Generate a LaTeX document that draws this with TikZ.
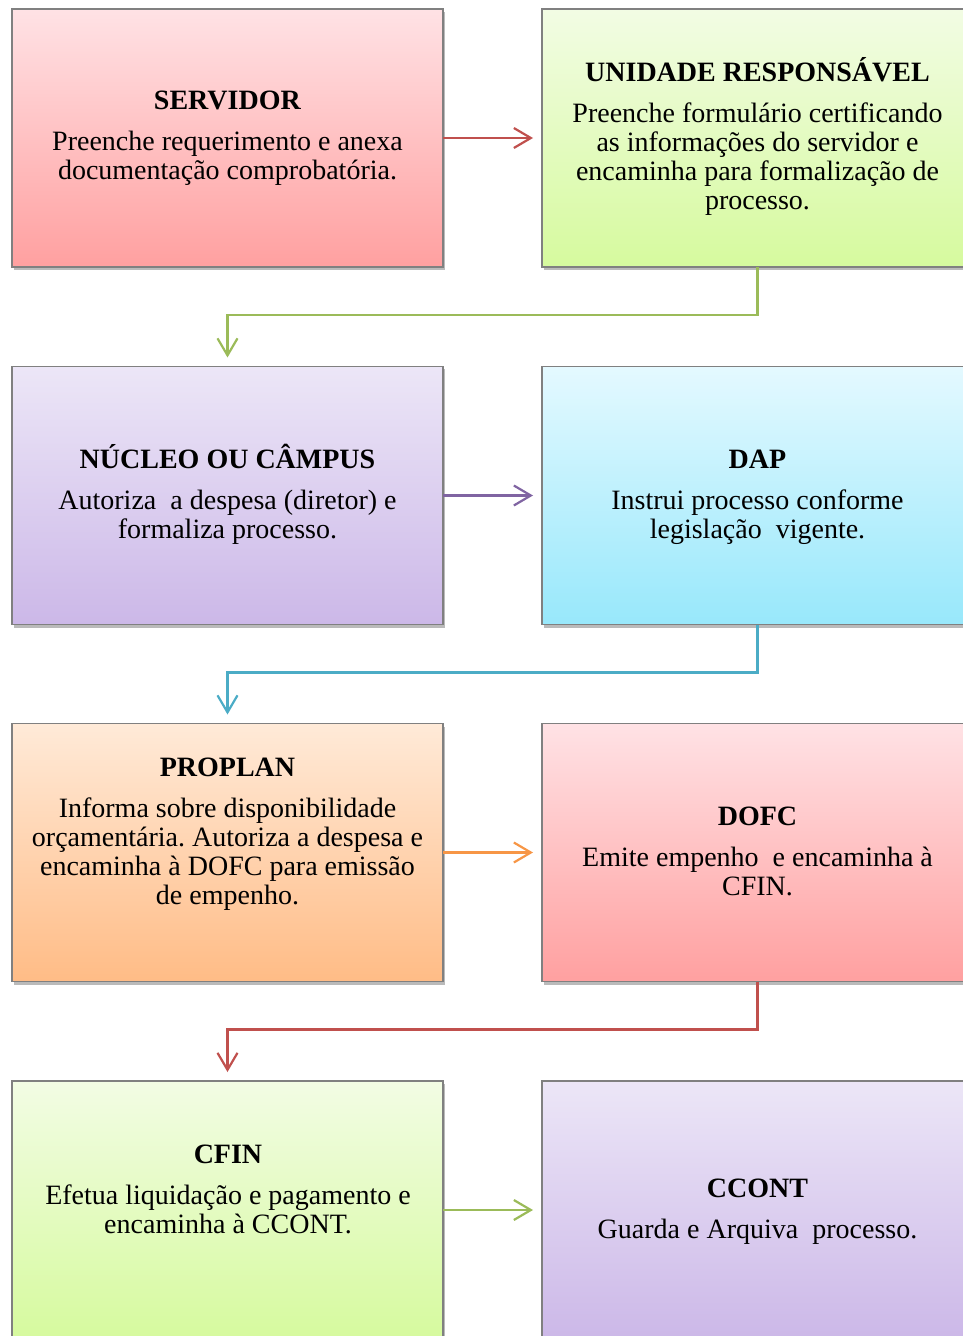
\documentclass[tikz,border=0pt]{standalone}
\usepackage{fontspec}
\setmainfont{Liberation Serif}
\frenchspacing
\usetikzlibrary{arrows.meta,shadows}
\definecolor{redT}{RGB}{255,226,229}
\definecolor{redB}{RGB}{255,160,160}
\definecolor{grnT}{RGB}{242,252,228}
\definecolor{grnB}{RGB}{214,250,158}
\definecolor{purT}{RGB}{236,230,247}
\definecolor{purB}{RGB}{204,184,232}
\definecolor{bluT}{RGB}{228,249,255}
\definecolor{bluB}{RGB}{152,232,251}
\definecolor{oraT}{RGB}{255,234,216}
\definecolor{oraB}{RGB}{255,188,134}
\definecolor{aRed}{RGB}{192,80,77}
\definecolor{aGreen}{RGB}{155,187,89}
\definecolor{aPurple}{RGB}{128,100,162}
\definecolor{aBlue}{RGB}{75,172,198}
\definecolor{aOrange}{RGB}{247,150,70}
\definecolor{edgegray}{RGB}{128,128,128}
\begin{document}
\begin{tikzpicture}[x=0.5pt,y=-0.5pt,
  stagebox/.style={rectangle, minimum width=215.5pt, minimum height=129pt,
    inner sep=0pt, outer sep=0pt, draw=edgegray, line width=0.7pt,
    drop shadow={shadow xshift=1.2pt, shadow yshift=-1.5pt, opacity=0.45, fill=black!60}},
  stagetext/.style={align=center, inner sep=0pt, anchor=base,
    font=\fontsize{14}{14.5}\selectfont\frenchspacing},
  flow/.style={line width=1.1pt, -{Straight Barb[length=8.5pt,width=10pt]}, shorten >=4.5pt},
]
\useasboundingbox (0,0) rectangle (962,1336);

% boxes
\node[stagebox, top color=redT, bottom color=redB] (servidor) at (227.5,138) {};
\node[stagebox, top color=grnT, bottom color=grnB] (unidade) at (757.5,138) {};
\node[stagebox, top color=purT, bottom color=purB] (nucleo) at (227.5,495.5) {};
\node[stagebox, top color=bluT, bottom color=bluB] (dap) at (757.5,495.5) {};
\node[stagebox, top color=oraT, bottom color=oraB] (proplan) at (227.5,852.5) {};
\node[stagebox, top color=redT, bottom color=redB] (dofc) at (757.5,852.5) {};
\node[stagebox, top color=grnT, bottom color=grnB] (cfin) at (227.5,1210) {};
\node[stagebox, top color=purT, bottom color=purB] (ccont) at (757.5,1210) {};

% texts (anchor = baseline of the last line)
\node[stagetext] (tServidor) at (227.5,180) {\textbf{SERVIDOR}\\[6pt]Preenche requerimento e anexa\\documentação comprobatória.};
\node[stagetext] (tUnidade) at (757.5,210) {\textbf{UNIDADE RESPONSÁVEL}\\[6pt]Preenche formulário certificando\\as informações do servidor e\\encaminha para formalização de\\processo.};
\node[stagetext] (tNucleo) at (227.5,538) {\textbf{NÚCLEO OU CÂMPUS}\\[6pt]Autoriza\ \ a despesa (diretor) e\\formaliza processo.};
\node[stagetext] (tDap) at (757.5,538) {\textbf{DAP}\\[6pt]Instrui processo conforme\\legislação\ \ vigente.};
\node[stagetext] (tProplan) at (227.5,904) {\textbf{PROPLAN}\\[6pt]Informa sobre disponibilidade\\orçamentária. Autoriza a despesa e\\encaminha à DOFC para emissão\\de empenho.};
\node[stagetext] (tDofc) at (757.5,895) {\textbf{DOFC}\\[6pt]Emite empenho\ \ e encaminha à\\CFIN.};
\node[stagetext] (tCfin) at (228,1233) {\textbf{CFIN}\\[6pt]Efetua liquidação e pagamento e\\encaminha à CCONT.};
\node[stagetext] (tCcont) at (757.5,1238) {\textbf{CCONT}\\[6pt]Guarda e Arquiva\ \ processo.};

% connectors
\draw[flow, aRed] (servidor.east) -- (unidade.west);
\draw[flow, aGreen] (unidade.south) -- ++(0,48) -| (nucleo.north);
\draw[flow, aPurple] (nucleo.east) -- (dap.west);
\draw[flow, aBlue] (dap.south) -- ++(0,48) -| (proplan.north);
\draw[flow, aOrange] (proplan.east) -- (dofc.west);
\draw[flow, aRed] (dofc.south) -- ++(0,48) -| (cfin.north);
\draw[flow, aGreen] (cfin.east) -- (ccont.west);
\end{tikzpicture}
\end{document}
